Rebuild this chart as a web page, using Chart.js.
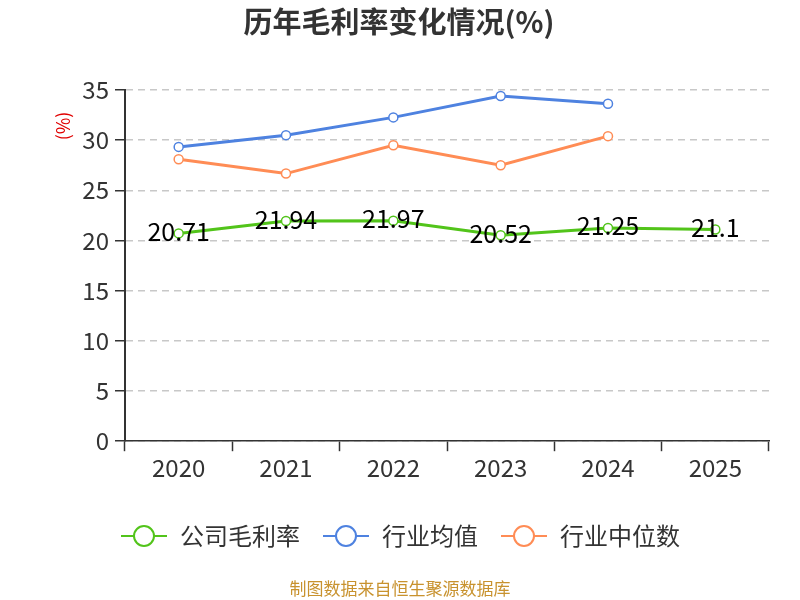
<!DOCTYPE html>
<html>
<head>
<meta charset="utf-8">
<script src="https://cdn.jsdelivr.net/npm/chart.js@4.4.0/dist/chart.umd.min.js"></script>
<style>
  html, body { margin: 0; padding: 0; background: #fff; }
  #wrap { width: 800px; height: 600px; position: relative; }
</style>
</head>
<body>
<div id="wrap"><canvas id="line-chart" width="800" height="600"></canvas></div>
<script>
// data
const years = ['2020', '2021', '2022', '2023', '2024', '2025'];
const companyMargin = [20.71, 21.94, 21.97, 20.52, 21.25, 21.1];
const industryAvg = [29.33, 30.5, 32.27, 34.4, 33.63, null];
const industryMedian = [28.1, 26.67, 29.5, 27.5, 30.4, null];
const yTicks = [0, 5, 10, 15, 20, 25, 30, 35];

const GREEN = '#52c41a';
const BLUE = '#4e82e0';
const ORANGE = '#ff8c55';
const FONT = '"Noto Sans CJK SC", "Noto Sans", sans-serif';

// legend marker: line with a hollow circle
function legendIcon(color) {
    const c = document.createElement('canvas');
    c.width = 48; c.height = 24;
    const ctx = c.getContext('2d');
    ctx.strokeStyle = color;
    ctx.lineWidth = 2;
    ctx.beginPath();
    ctx.moveTo(1, 12); ctx.lineTo(47, 12);
    ctx.stroke();
    ctx.fillStyle = '#fff';
    ctx.beginPath();
    ctx.arc(24, 12, 10, 0, Math.PI * 2);
    ctx.fill();
    ctx.stroke();
    return c;
}

const valueLabels = {
    id: 'valueLabels',
    afterDatasetsDraw(chart) {
        const ctx = chart.ctx;
        const meta = chart.getDatasetMeta(0);
        ctx.save();
        ctx.font = '25px ' + FONT;
        ctx.fillStyle = '#000';
        ctx.textAlign = 'center';
        ctx.textBaseline = 'middle';
        meta.data.forEach((pt, i) => {
            ctx.fillText(String(companyMargin[i]), pt.x, pt.y - 2);
        });
        ctx.restore();
    }
};

const extraText = {
    id: 'extraText',
    afterDraw(chart) {
        const ctx = chart.ctx;
        ctx.save();
        ctx.fillStyle = '#333';
        ctx.font = 'bold 29px ' + FONT;
        ctx.textAlign = 'center';
        ctx.textBaseline = 'middle';
        ctx.fillText('历年毛利率变化情况(%)', 399, 22);
        ctx.restore();

        ctx.save();
        ctx.fillStyle = '#e00000';
        ctx.font = '18px ' + FONT;
        ctx.translate(63, 126);
        ctx.rotate(-Math.PI / 2);
        ctx.textAlign = 'center';
        ctx.textBaseline = 'middle';
        ctx.fillText('(%)', 0, 0);
        ctx.restore();

        ctx.save();
        ctx.fillStyle = '#c8922e';
        ctx.font = '17px ' + FONT;
        ctx.textAlign = 'center';
        ctx.textBaseline = 'middle';
        ctx.fillText('制图数据来自恒生聚源数据库', 400, 589);
        ctx.restore();
    }
};

function series(label, data, color) {
    return {
        label: label,
        data: data,
        borderColor: color,
        backgroundColor: '#fff',
        borderWidth: 3,
        pointRadius: 4.5,
        pointBorderWidth: 1.5,
        pointBorderColor: color,
        pointBackgroundColor: '#fff',
        tension: 0,
        spanGaps: false
    };
}

const config = {
    type: 'line',
    data: {
        labels: years,
        datasets: [
            series('公司毛利率', companyMargin, GREEN),
            series('行业均值', industryAvg, BLUE),
            series('行业中位数', industryMedian, ORANGE)
        ]
    },
    options: {
        responsive: false,
        animation: false,
        layout: { padding: { left: 31, right: 31, top: 90, bottom: 42 } },
        plugins: {
            title: { display: false },
            legend: {
                position: 'bottom',
                labels: {
                    usePointStyle: true,
                    pointStyleWidth: 48,
                    color: '#333',
                    font: { size: 24, family: FONT },
                    padding: 22,
                    generateLabels(chart) {
                        return chart.data.datasets.map((ds, i) => ({
                            text: ds.label,
                            fillStyle: '#fff',
                            strokeStyle: ds.borderColor,
                            pointStyle: legendIcon(ds.borderColor),
                            fontColor: '#333',
                            hidden: false,
                            datasetIndex: i
                        }));
                    }
                }
            },
            tooltip: { enabled: false }
        },
        scales: {
            x: {
                offset: true,
                afterFit(axis) { axis.height += 18; },
                grid: {
                    offset: true,
                    drawOnChartArea: false,
                    tickLength: 10,
                    tickColor: '#333',
                    tickWidth: 1.5
                },
                border: { color: '#333', width: 1.5 },
                ticks: { color: '#333', font: { size: 24, family: FONT }, padding: 2 }
            },
            y: {
                min: 0,
                max: 35,
                afterFit(axis) { axis.width = 94; },
                afterBuildTicks(axis) {
                    axis.ticks = yTicks.map(v => ({ value: v }));
                },
                grid: {
                    color: '#c8c8c8',
                    lineWidth: 1.5,
                    tickLength: 10,
                    tickColor: '#333',
                    tickWidth: 1.5,
                    tickBorderDash: []
                },
                border: { color: '#333', width: 2, dash: [7, 5] },
                ticks: { color: '#333', font: { size: 24, family: FONT }, padding: 6 }
            }
        }
    },
    plugins: [valueLabels, extraText]
};

new Chart(document.getElementById('line-chart'), config);
</script>
</body>
</html>
